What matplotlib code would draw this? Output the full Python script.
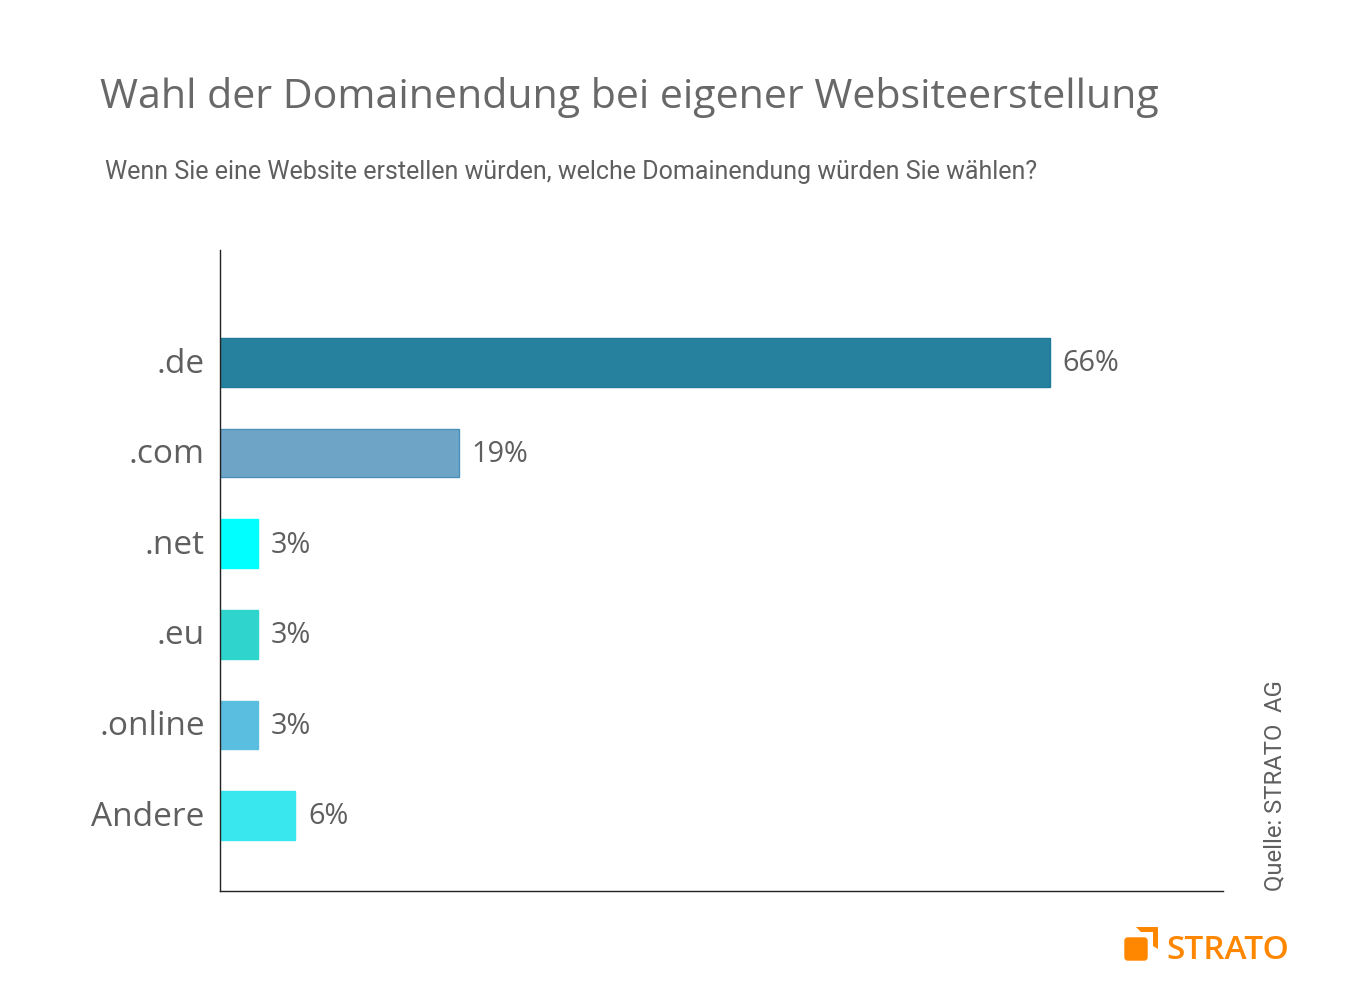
import matplotlib

matplotlib.use("Agg")
import matplotlib.pyplot as plt
from matplotlib.patches import FancyBboxPatch, Polygon
from matplotlib.transforms import ScaledTranslation

W, H = 1369, 1000

categories = [".de", ".com", ".net", ".eu", ".online", "Andere"]
values = [66, 19, 3, 3, 3, 6]
bar_colors = ["#26819E", "#6EA5C6", "#00FFFF", "#2FD4CC", "#5ABEE0", "#38E8EE"]
edge_colors = ["#1F7A99", "#4A90B8", "#00FFFF", "#2FD4CC", "#5ABEE0", "#38E8EE"]

TITLE = "Wahl der Domainendung bei eigener Websiteerstellung"
SUBTITLE = "Wenn Sie eine Website erstellen würden, welche Domainendung würden Sie wählen?"
SOURCE = "Quelle: STRATO  AG"
TEXT_COLOR = "#5F5F5F"
ORANGE = "#FF8700"


def fx(px):
    return px / W


def fy(py):
    return 1 - py / H


fig = plt.figure(figsize=(W / 100, H / 100), dpi=100, facecolor="white")
ax = fig.add_axes([fx(220), fy(891), (1223 - 220) / W, (891 - 250) / H])

ax.barh(
    range(len(values)),
    values,
    height=0.535,
    color=bar_colors,
    edgecolor=edge_colors,
    linewidth=1,
    zorder=2,
)
ax.set_xlim(0, 79.8)
ax.set_ylim(5.833, -1.242)

ax.set_xticks([])
ax.set_yticks(range(len(categories)))
ax.set_yticklabels(categories, family="Open Sans", fontsize=24, color=TEXT_COLOR)
ax.tick_params(axis="y", length=0, pad=11)
shift = ScaledTranslation(0, 2.5 / 100, fig.dpi_scale_trans)
for label in ax.get_yticklabels():
    label.set_transform(label.get_transform() + shift)
for side in ["top", "right"]:
    ax.spines[side].set_visible(False)
for side in ["left", "bottom"]:
    ax.spines[side].set_color("#222222")
    ax.spines[side].set_linewidth(1)
    ax.spines[side].set_zorder(3)

for i, v in enumerate(values):
    ax.annotate(
        f"{v}%",
        (v, i),
        xytext=(9.3, -1),
        textcoords="offset points",
        family="Open Sans",
        fontsize=20.8,
        color=TEXT_COLOR,
        va="center",
        ha="left",
    )

fig.text(fx(100), fy(97), TITLE, family="Open Sans", fontsize=29.6, color="#686868", va="center")
fig.text(fx(105), fy(172), SUBTITLE, family="Roboto", fontsize=18, color=TEXT_COLOR, va="center")
fig.text(
    fx(1275), fy(891), SOURCE, family="Roboto", fontsize=17.2,
    color=TEXT_COLOR, rotation=90, va="bottom", ha="center",
)

# logo
fig.patches.append(
    FancyBboxPatch(
        (fx(1125), fy(960)), 22 / W, 22 / H, boxstyle="round,pad=0,rounding_size=0.002",
        mutation_aspect=W / H, transform=fig.transFigure, facecolor=ORANGE, edgecolor=ORANGE, linewidth=1,
    )
)
corner = [(1136, 927), (1158, 927), (1158, 949), (1153, 946), (1153, 932), (1141, 932)]
fig.patches.append(
    Polygon([(fx(x), fy(y)) for x, y in corner], transform=fig.transFigure, facecolor=ORANGE, edgecolor="none")
)
fig.text(fx(1166), fy(950.5), "STRATO", family="Open Sans", fontsize=24, fontweight="semibold", color=ORANGE, va="center")

fig.savefig("out.png", dpi=100, facecolor=fig.get_facecolor())
plt.close(fig)
